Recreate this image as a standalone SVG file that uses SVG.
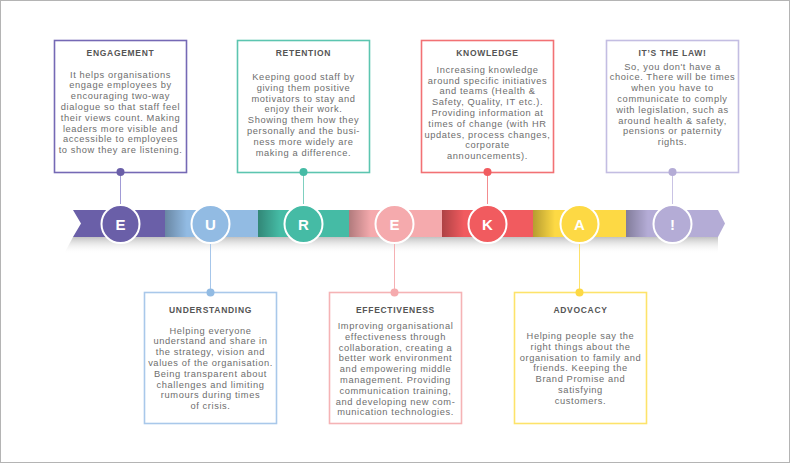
<svg xmlns="http://www.w3.org/2000/svg" width="790" height="463" viewBox="0 0 790 463">
<style>
.box{fill:#fff;stroke-width:1.6}
.t{font-family:"Liberation Sans",Arial,sans-serif;font-weight:700;font-size:8.5px;fill:#555;text-anchor:middle;letter-spacing:0.7px}
.b{font-family:"Liberation Sans",Arial,sans-serif;font-size:9.3px;fill:#6e6e6e;text-anchor:middle;letter-spacing:0.6px}
.ltr{font-family:"Liberation Sans",Arial,sans-serif;font-weight:700;font-size:15px;fill:#fff;text-anchor:middle}
.ring{stroke:#fff;stroke-width:2}
.ln{stroke-width:1;fill:none}
</style>
<defs>
<linearGradient id="shade" x1="0" y1="0" x2="1" y2="0">
<stop offset="0" stop-color="#000" stop-opacity="0.28"/>
<stop offset="1" stop-color="#000" stop-opacity="0"/>
</linearGradient>
<linearGradient id="shadow" x1="0" y1="0" x2="0" y2="1">
<stop offset="0" stop-color="#a8a8a8" stop-opacity="0.7"/>
<stop offset="1" stop-color="#ffffff" stop-opacity="0"/>
</linearGradient>
</defs>
<rect x="0.5" y="0.5" width="789" height="462" fill="#fff" stroke="#b4b4b4" stroke-width="1"/>

<g id="band">
<polygon points="73,237 718,237 718,254 64,254" fill="url(#shadow)"/>
<polygon points="73,210 166,210 166,237 73,237 81,223.5" fill="#6a5fa8"/>
<rect x="165" y="210" width="93" height="27" fill="#92bbe3"/>
<rect x="165" y="210" width="22" height="27" fill="url(#shade)"/>
<rect x="258" y="210" width="91" height="27" fill="#45bba5"/>
<rect x="258" y="210" width="22" height="27" fill="url(#shade)"/>
<rect x="349" y="210" width="93" height="27" fill="#f5aaad"/>
<rect x="349" y="210" width="22" height="27" fill="url(#shade)"/>
<rect x="442" y="210" width="91" height="27" fill="#f15b5f"/>
<rect x="442" y="210" width="22" height="27" fill="url(#shade)"/>
<rect x="533" y="210" width="93" height="27" fill="#fdd944"/>
<rect x="533" y="210" width="22" height="27" fill="url(#shade)"/>
<polygon points="626,210 718,210 725,223.5 718,237 626,237" fill="#b4acd6"/>
<rect x="626" y="210" width="22" height="27" fill="url(#shade)"/>
</g>

<g id="connectors">
<line class="ln" x1="120.5" y1="172" x2="120.5" y2="204" stroke="#a19bd6"/>
<line class="ln" x1="210.5" y1="243" x2="210.5" y2="292" stroke="#a6c6ea"/>
<line class="ln" x1="303.5" y1="172" x2="303.5" y2="204" stroke="#7fd0c0"/>
<line class="ln" x1="394.5" y1="243" x2="394.5" y2="292" stroke="#f5b0b3"/>
<line class="ln" x1="487.5" y1="172" x2="487.5" y2="204" stroke="#f38c8f"/>
<line class="ln" x1="579.5" y1="243" x2="579.5" y2="292" stroke="#fde16a"/>
<line class="ln" x1="672.5" y1="172" x2="672.5" y2="204" stroke="#c9c3e4"/>
</g>

<g id="c-e1"><circle class="ring" cx="120.5" cy="224" r="19" fill="#6a5fa8"/><text class="ltr" x="120.5" y="229.5">E</text></g>
<g id="c-u"><circle class="ring" cx="210.5" cy="224" r="19" fill="#92bbe3"/><text class="ltr" x="210.5" y="229.5">U</text></g>
<g id="c-r"><circle class="ring" cx="303.5" cy="224" r="19" fill="#45bba5"/><text class="ltr" x="303.5" y="229.5">R</text></g>
<g id="c-e2"><circle class="ring" cx="394.5" cy="224" r="19" fill="#f5aaad"/><text class="ltr" x="394.5" y="229.5">E</text></g>
<g id="c-k"><circle class="ring" cx="487.5" cy="224" r="19" fill="#f15b5f"/><text class="ltr" x="487.5" y="229.5">K</text></g>
<g id="c-a"><circle class="ring" cx="579.5" cy="224" r="19" fill="#fdd944"/><text class="ltr" x="579.5" y="229.5">A</text></g>
<g id="c-x"><circle class="ring" cx="672.5" cy="224" r="19" fill="#b4acd6"/><text class="ltr" x="672.5" y="229.5">!</text></g>

<g id="engagement">
<rect class="box" x="54.5" y="40.5" width="132" height="132" stroke="#7569b5"/>
<circle cx="120.5" cy="172" r="4" fill="#6a5fa8"/>
<text class="t" x="120.5" y="56">ENGAGEMENT</text>
<text class="b" x="120.5" y="77.5">It helps organisations</text>
<text class="b" x="120.5" y="88.3">engage employees by</text>
<text class="b" x="120.5" y="99.1">encouraging two-way</text>
<text class="b" x="120.5" y="109.9">dialogue so that staff feel</text>
<text class="b" x="120.5" y="120.7">their views count. Making</text>
<text class="b" x="120.5" y="131.5">leaders more visible and</text>
<text class="b" x="120.5" y="142.3">accessible to employees</text>
<text class="b" x="120.5" y="153.1">to show they are listening.</text>
</g>

<g id="retention">
<rect class="box" x="237.5" y="40.5" width="132" height="132" stroke="#5cc5b0"/>
<circle cx="303.5" cy="172" r="4" fill="#45bba5"/>
<text class="t" x="303.5" y="56">RETENTION</text>
<text class="b" x="303.5" y="80">Keeping good staff by</text>
<text class="b" x="303.5" y="90.8">giving them positive</text>
<text class="b" x="303.5" y="101.6">motivators to stay and</text>
<text class="b" x="303.5" y="112.4">enjoy their work.</text>
<text class="b" x="303.5" y="123.2">Showing them how they</text>
<text class="b" x="303.5" y="134">personally and the busi-</text>
<text class="b" x="303.5" y="144.8">ness more widely are</text>
<text class="b" x="303.5" y="155.6">making a difference.</text>
</g>

<g id="knowledge">
<rect class="box" x="421.5" y="40.5" width="132" height="132" stroke="#f27174"/>
<circle cx="487.5" cy="172" r="4" fill="#f15b5f"/>
<text class="t" x="487.5" y="55.5">KNOWLEDGE</text>
<text class="b" x="487.5" y="72.7">Increasing knowledge</text>
<text class="b" x="487.5" y="83.5">around specific initiatives</text>
<text class="b" x="487.5" y="94.3">and teams (Health &amp;</text>
<text class="b" x="487.5" y="105.1">Safety, Quality, IT etc.).</text>
<text class="b" x="487.5" y="115.9">Providing information at</text>
<text class="b" x="487.5" y="126.7">times of change (with HR</text>
<text class="b" x="487.5" y="137.5">updates, process changes,</text>
<text class="b" x="487.5" y="148.3">corporate</text>
<text class="b" x="487.5" y="159.1">announcements).</text>
</g>

<g id="law">
<rect class="box" x="606.5" y="40.5" width="132" height="132" stroke="#c3bde2"/>
<circle cx="672.5" cy="172" r="4" fill="#b4acd6"/>
<text class="t" x="672.5" y="56">IT’S THE LAW!</text>
<text class="b" x="672.5" y="69.5">So, you don't have a</text>
<text class="b" x="672.5" y="80.3">choice. There will be times</text>
<text class="b" x="672.5" y="91.1">when you have to</text>
<text class="b" x="672.5" y="101.9">communicate to comply</text>
<text class="b" x="672.5" y="112.7">with legislation, such as</text>
<text class="b" x="672.5" y="123.5">around health &amp; safety,</text>
<text class="b" x="672.5" y="134.3">pensions or paternity</text>
<text class="b" x="672.5" y="145.1">rights.</text>
</g>

<g id="understanding">
<rect class="box" x="144.5" y="292.5" width="132" height="131" stroke="#a9c8ea"/>
<circle cx="210.5" cy="292.5" r="4" fill="#92bbe3"/>
<text class="t" x="210.5" y="312.5">UNDERSTANDING</text>
<text class="b" x="210.5" y="333.5">Helping everyone</text>
<text class="b" x="210.5" y="344.3">understand and share in</text>
<text class="b" x="210.5" y="355.1">the strategy, vision and</text>
<text class="b" x="210.5" y="365.9">values of the organisation.</text>
<text class="b" x="210.5" y="376.7">Being transparent about</text>
<text class="b" x="210.5" y="387.5">challenges and limiting</text>
<text class="b" x="210.5" y="398.3">rumours during times</text>
<text class="b" x="210.5" y="409.1">of crisis.</text>
</g>

<g id="effectiveness">
<rect class="box" x="329.5" y="292.5" width="132" height="131" stroke="#f5b3b5"/>
<circle cx="394.5" cy="292.5" r="4" fill="#f5aaad"/>
<text class="t" x="395.5" y="312.5">EFFECTIVENESS</text>
<text class="b" x="395.5" y="329">Improving organisational</text>
<text class="b" x="395.5" y="339.8">effectiveness through</text>
<text class="b" x="395.5" y="350.6">collaboration, creating a</text>
<text class="b" x="395.5" y="361.4">better work environment</text>
<text class="b" x="395.5" y="372.2">and empowering middle</text>
<text class="b" x="395.5" y="383">management. Providing</text>
<text class="b" x="395.5" y="393.8">communication training,</text>
<text class="b" x="395.5" y="404.6">and developing new com-</text>
<text class="b" x="395.5" y="415.4">munication technologies.</text>
</g>

<g id="advocacy">
<rect class="box" x="514.5" y="292.5" width="132" height="131" stroke="#fde36a"/>
<circle cx="579.5" cy="292.5" r="4" fill="#fdd944"/>
<text class="t" x="580.5" y="312.5">ADVOCACY</text>
<text class="b" x="580.5" y="339">Helping people say the</text>
<text class="b" x="580.5" y="349.8">right things about the</text>
<text class="b" x="580.5" y="360.6">organisation to family and</text>
<text class="b" x="580.5" y="371.4">friends. Keeping the</text>
<text class="b" x="580.5" y="382.2">Brand Promise and</text>
<text class="b" x="580.5" y="393">satisfying</text>
<text class="b" x="580.5" y="403.8">customers.</text>
</g>
</svg>
